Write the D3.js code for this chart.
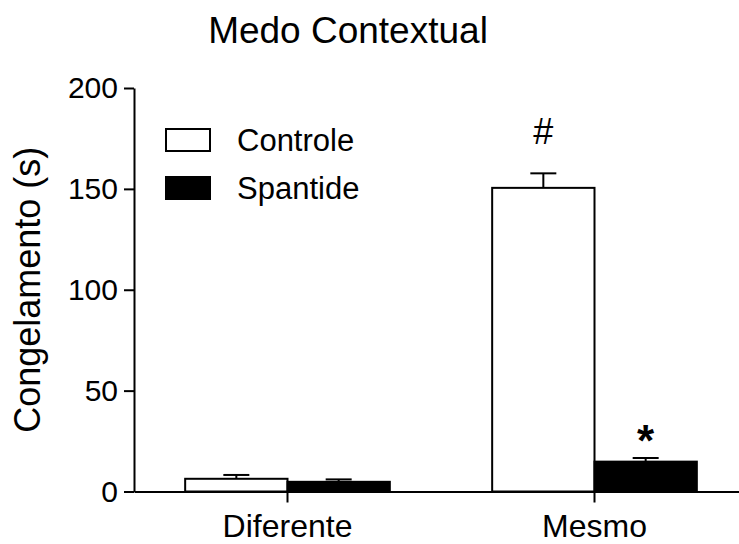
<!DOCTYPE html>
<html>
<head>
<meta charset="utf-8">
<script src="https://cdn.jsdelivr.net/npm/d3@7"></script>
<style>
  body { margin: 0; background: #fff; }
  svg { display: block; font-family: "Liberation Sans", Arial, sans-serif; }
  .axis path, .axis line { stroke: #000; stroke-width: 2; }
  .axis text { fill: #000; }
</style>
</head>
<body>
<script>
const categories = ['Diferente', 'Mesmo'];
const series = ['Controle', 'Spantide'];
const controle = [6.3, 150.5];
const controleErr = [1.9, 7.2];
const spantide = [4.8, 14.8];
const spantideErr = [1.2, 1.8];
const controleMarks = ['', '#'];
const spantideMarks = ['', '*'];
const yTicks = [0, 50, 100, 150, 200];

const width = 739;
const height = 544;
const plotLeft = 134;
const plotBottom = 491.5;
const plotTop = 88;

const data = categories.map((c, i) => ({
  category: c,
  values: [
    { series: 'Controle', value: controle[i], err: controleErr[i], mark: controleMarks[i] },
    { series: 'Spantide', value: spantide[i], err: spantideErr[i], mark: spantideMarks[i] }
  ]
}));

const svg = d3.select('body').append('svg')
  .attr('width', width)
  .attr('height', height);

const x0 = d3.scaleBand().domain(categories).range([plotLeft, 748]);
const x1 = d3.scaleBand().domain(series).range([0, x0.bandwidth()]).paddingOuter(0.5);
const y = d3.scaleLinear().domain([0, 200]).range([plotBottom, plotTop]);
const fill = d3.scaleOrdinal().domain(series).range(['#fff', '#000']);

// title
svg.append('text')
  .attr('x', 348)
  .attr('y', 43)
  .attr('text-anchor', 'middle')
  .attr('font-size', 37)
  .text('Medo Contextual');

// y label
svg.append('text')
  .attr('transform', `translate(40, ${(plotTop + plotBottom) / 2}) rotate(-90)`)
  .attr('text-anchor', 'middle')
  .attr('font-size', 36)
  .text('Congelamento (s)');

const groups = svg.append('g').selectAll('g')
  .data(data)
  .enter()
  .append('g')
  .attr('transform', (d) => `translate(${x0(d.category)}, 0)`);

const bars = groups.selectAll('g')
  .data((d) => d.values)
  .enter()
  .append('g');

// error bars (drawn before bars so the stem starts at bar top)
bars.append('line')
  .attr('x1', (d) => x1(d.series) + x1.bandwidth() / 2)
  .attr('x2', (d) => x1(d.series) + x1.bandwidth() / 2)
  .attr('y1', (d) => y(d.value))
  .attr('y2', (d) => y(d.value + d.err))
  .attr('stroke', '#000')
  .attr('stroke-width', 2);

bars.append('line')
  .attr('x1', (d) => x1(d.series) + x1.bandwidth() / 2 - 13)
  .attr('x2', (d) => x1(d.series) + x1.bandwidth() / 2 + 13)
  .attr('y1', (d) => y(d.value + d.err))
  .attr('y2', (d) => y(d.value + d.err))
  .attr('stroke', '#000')
  .attr('stroke-width', 2);

bars.append('rect')
  .attr('x', (d) => x1(d.series))
  .attr('y', (d) => y(d.value))
  .attr('width', x1.bandwidth())
  .attr('height', (d) => y(0) - y(d.value))
  .attr('fill', (d) => fill(d.series))
  .attr('stroke', '#000')
  .attr('stroke-width', 2);

// significance marks
bars.filter((d) => d.mark === '#').append('text')
  .attr('x', (d) => x1(d.series) + x1.bandwidth() / 2)
  .attr('y', (d) => y(d.value + d.err) - 29)
  .attr('text-anchor', 'middle')
  .attr('font-size', 36)
  .text((d) => d.mark);

bars.filter((d) => d.mark === '*').append('text')
  .attr('x', (d) => x1(d.series) + x1.bandwidth() / 2)
  .attr('y', (d) => y(d.value + d.err) - 2)
  .attr('text-anchor', 'middle')
  .attr('font-size', 44)
  .attr('font-weight', 'bold')
  .text((d) => d.mark);

// axes
const xAxis = svg.append('g')
  .attr('class', 'axis')
  .attr('transform', `translate(0, ${plotBottom})`)
  .call(d3.axisBottom(x0).tickSize(11).tickSizeOuter(0).tickPadding(12));
xAxis.selectAll('text').attr('font-size', 32);

const yAxis = svg.append('g')
  .attr('class', 'axis')
  .attr('transform', `translate(${plotLeft}, 0)`)
  .call(d3.axisLeft(y).tickValues(yTicks).tickSize(10).tickSizeOuter(0).tickPadding(6));
yAxis.selectAll('text').attr('font-size', 30);

// legend
const legend = svg.append('g')
  .selectAll('g')
  .data(series)
  .enter()
  .append('g')
  .attr('transform', (d, i) => `translate(166, ${129 + i * 48})`);

legend.append('rect')
  .attr('width', 44)
  .attr('height', 22)
  .attr('fill', (d) => fill(d))
  .attr('stroke', '#000')
  .attr('stroke-width', 2);

legend.append('text')
  .attr('x', 71)
  .attr('y', 22)
  .attr('font-size', 31)
  .text((d) => d);
</script>
</body>
</html>
